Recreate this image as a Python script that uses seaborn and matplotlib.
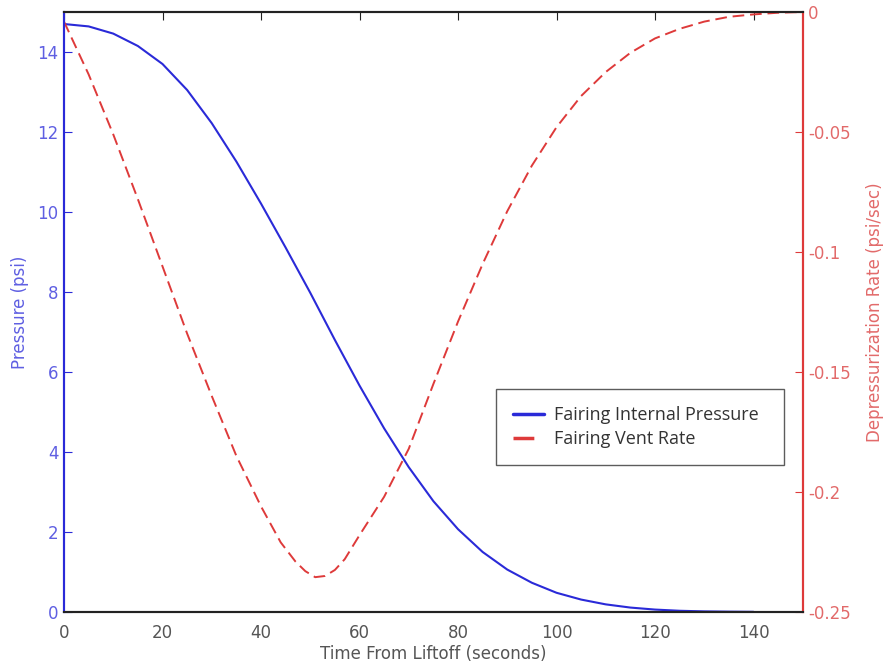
import numpy as np
import pandas as pd
import seaborn as sns
import matplotlib.pyplot as plt

# fairing internal pressure (psi) vs time from liftoff (s)
time_p = [0, 5, 10, 15, 20, 25, 30, 35, 40, 45, 50, 55, 60, 65, 70, 75,
          80, 85, 90, 95, 100, 105, 110, 115, 120, 125, 130, 135, 140]
pressure = [14.7, 14.64, 14.46, 14.15, 13.7, 13.05, 12.22, 11.26, 10.21, 9.11, 7.98,
            6.8, 5.66, 4.59, 3.62, 2.77, 2.07, 1.5, 1.06, 0.73, 0.48, 0.31, 0.19,
            0.11, 0.06, 0.03, 0.015, 0.008, 0.004]

# fairing vent rate (psi/sec)
time_r = [0, 5, 10, 15, 20, 25, 30, 35, 40, 44, 47, 49, 51, 53, 55, 57, 60, 65, 70,
          75, 80, 85, 90, 95, 100, 105, 110, 115, 120, 125, 130, 135, 140, 145, 150]
vent_rate = [-0.004, -0.026, -0.051, -0.078, -0.106, -0.134, -0.16, -0.185, -0.206,
             -0.221, -0.229, -0.233, -0.2355, -0.235, -0.2325, -0.228, -0.218,
             -0.202, -0.182, -0.155, -0.129, -0.105, -0.083, -0.064, -0.048, -0.035,
             -0.025, -0.017, -0.011, -0.007, -0.004, -0.002, -0.001, -0.0003, 0.0]

press_df = pd.DataFrame({'Time': time_p, 'Pressure': pressure})
rate_df = pd.DataFrame({'Time': time_r, 'Rate': vent_rate})

sns.set_style('white')
plt.rcParams['font.family'] = ['DejaVu Sans']

blue = '#2a2ad8'
red = '#de3a3a'
blue_txt = '#5f5fe2'
red_txt = '#e26a6a'

fig = plt.figure(figsize=(8.89, 6.67), dpi=100)
ax = fig.add_axes([0.072, 0.0825, 0.831, 0.8995])
ax2 = ax.twinx()

sns.lineplot(data=press_df, x='Time', y='Pressure', ax=ax, color=blue, linewidth=1.5,
             label='Fairing Internal Pressure', legend=False)
sns.lineplot(data=rate_df, x='Time', y='Rate', ax=ax2, color=red, linewidth=1.4,
             label='Fairing Vent Rate', legend=False)
ax2.lines[0].set_linestyle((0, (6, 3)))

ax.set_xlim(0, 150)
ax.set_ylim(0, 15)
ax2.set_ylim(-0.25, 0)
ax.set_xticks(range(0, 141, 20))
ax.set_yticks(range(0, 15, 2))
ax2.set_yticks([-0.25, -0.2, -0.15, -0.1, -0.05, 0])
ax2.set_yticklabels(['-0.25', '-0.2', '-0.15', '-0.1', '-0.05', '0'])

ax.set_xlabel('Time From Liftoff (seconds)', fontsize=12, color='#555555', labelpad=2)
ax.set_ylabel('Pressure (psi)', fontsize=12, color=blue_txt, labelpad=6)
ax2.set_ylabel('Depressurization Rate (psi/sec)', fontsize=12, color=red_txt,
               rotation=90, labelpad=11)

ax.tick_params(axis='x', direction='in', length=6, top=True, colors='#222222',
               labelcolor='#555555', labelsize=12, pad=9)
ax.tick_params(axis='y', direction='in', length=6, colors=blue, labelcolor=blue_txt,
               labelsize=12, pad=4)
ax2.tick_params(axis='y', direction='in', length=6, colors=red, labelcolor=red_txt,
                labelsize=12, pad=4)

for a in (ax, ax2):
    a.spines['top'].set_color('#222222')
    a.spines['bottom'].set_color('#222222')
    a.spines['left'].set_color(blue)
    a.spines['right'].set_color(red)
    for s in a.spines.values():
        s.set_linewidth(1.5)

handles = ax.get_lines()[:1] + ax2.get_lines()[:1]
leg = ax2.legend(handles, [h.get_label() for h in handles], loc='center left',
                 bbox_to_anchor=(0.585, 0.243, 0.389, 0.13), mode='expand',
                 frameon=True, fancybox=False, edgecolor='#333333',
                 prop={'family': 'Open Sans', 'size': 13}, handlelength=1.7,
                 handletextpad=0.55, borderpad=0.95, labelspacing=0.3,
                 borderaxespad=0, labelcolor='#333333')
leg.get_frame().set_linewidth(1.0)
for l in leg.get_lines():
    l.set_linewidth(2.5)

fig.savefig('out.png', dpi=100)
